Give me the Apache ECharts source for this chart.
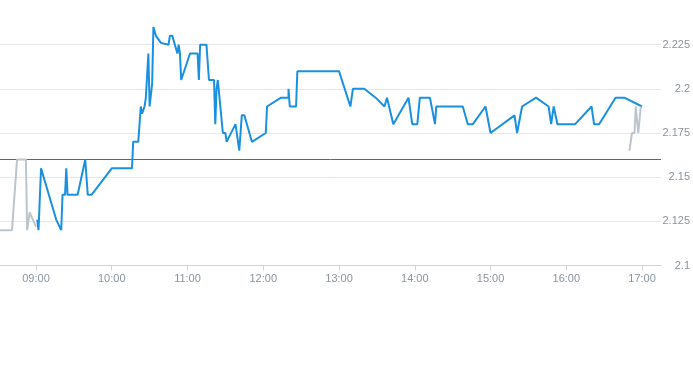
<!DOCTYPE html>
<html>
<head>
<meta charset="utf-8">
<script src="https://cdn.jsdelivr.net/npm/echarts@6/dist/echarts.min.js"></script>
<style>html,body{margin:0;padding:0;background:#fff}#c{width:693px;height:365px}</style>
</head>
<body>
<div id="c"></div>
<script>
// Tick labels
const xTickLabels = ["09:00","10:00","11:00","12:00","13:00","14:00","15:00","16:00","17:00"];
const yTickValues = [2.1, 2.125, 2.15, 2.175, 2.2, 2.225];
const refLevel = 2.16;

// Pre-market (gray)
const preTimes  = ["08:31","08:41","08:45","08:52","08:53","08:55","09:00"];
const preValues = [2.12, 2.12, 2.16, 2.16, 2.12, 2.13, 2.122];

// Trading session (blue)
const mainTimes = ["09:01","09:02","09:04","09:16","09:17","09:20","09:21","09:23","09:24","09:25",
  "09:33","09:39","09:41","09:44","10:00","10:16","10:17","10:21","10:22","10:23",
  "10:23","10:24","10:26","10:27","10:29","10:30","10:32","10:33","10:35","10:39",
  "10:45","10:46","10:48","10:50","10:51","10:52","10:53","10:54","10:55","11:02",
  "11:08","11:09","11:10","11:15","11:17","11:21","11:22","11:23","11:24","11:28",
  "11:30","11:31","11:38","11:41","11:43","11:45","11:51","12:02","12:03","12:14",
  "12:20","12:20","12:21","12:26","12:27","13:00","13:09","13:11","13:20","13:29",
  "13:36","13:38","13:43","13:55","13:58","14:02","14:04","14:12","14:16","14:17",
  "14:38","14:42","14:46","14:56","15:00","15:19","15:21","15:25","15:36","15:46",
  "15:48","15:50","15:53","16:07","16:20","16:22","16:26","16:39","16:46","17:00"];
const mainValues = [2.126,2.12,2.155,2.126,2.125,2.12,2.14,2.14,2.155,2.14,
  2.14,2.16,2.14,2.14,2.155,2.155,2.17,2.17,2.18,2.18,
  2.19,2.186,2.19,2.195,2.22,2.19,2.203,2.235,2.23,2.226,
  2.225,2.23,2.23,2.225,2.225,2.22,2.225,2.22,2.205,2.22,
  2.22,2.205,2.225,2.225,2.205,2.205,2.18,2.2,2.205,2.175,
  2.175,2.17,2.18,2.165,2.185,2.185,2.17,2.175,2.19,2.195,
  2.195,2.2,2.19,2.19,2.21,2.21,2.19,2.2,2.2,2.195,
  2.19,2.195,2.18,2.195,2.18,2.18,2.195,2.195,2.18,2.19,
  2.19,2.18,2.18,2.19,2.175,2.185,2.175,2.19,2.195,2.19,
  2.18,2.19,2.18,2.18,2.19,2.18,2.18,2.195,2.195,2.19];

// After-hours (gray)
const postTimes  = ["16:50","16:52","16:54","16:55","16:57","16:58","16:59"];
const postValues = [2.165, 2.175, 2.175, 2.19, 2.175, 2.175, 2.19];

function toMin(s){ const p = s.split(":"); return (+p[0])*60 + (+p[1]); }
function fmt(m){ const h = Math.floor(m/60), mm = Math.round(m%60); return (h<10?"0":"")+h+":"+(mm<10?"0":"")+mm; }
function pairs(ts, vs){ return ts.map((t,i)=>[toMin(t), vs[i]]); }

const X_MIN = 511.5, X_MAX = 1035;
const tickMins = xTickLabels.map(toMin);
const chart = echarts.init(document.getElementById('c'), null, {renderer:'canvas'});
chart.setOption({
  animation: false,
  grid: { left: 0, right: 30, top: 0.5, bottom: 99.5, containLabel: false },
  xAxis: {
    type: 'value', min: X_MIN, max: X_MAX,
    axisLine: { show: true, lineStyle: { color: '#cfd3d8', width: 1 } },
    axisTick: { show: true, customValues: tickMins, length: 5, lineStyle: { color: '#cfd3d8' } },
    axisLabel: { customValues: tickMins, formatter: v => fmt(v), color: '#8a95a1', fontSize: 11, margin: 8, fontFamily: 'Liberation Sans, Arial, sans-serif' },
    splitLine: { show: false }
  },
  yAxis: {
    type: 'value', position: 'right', min: 2.1, max: 2.25, interval: 0.025,
    axisLine: { show: false }, axisTick: { show: false },
    axisLabel: { align: 'right', margin: 29, color: '#8a95a1', fontSize: 11, fontFamily: 'Liberation Sans, Arial, sans-serif',
      showMaxLabel: false,
      formatter: v => String(+v.toFixed(3)) },
    splitLine: { show: true, showMaxLine: false, lineStyle: { color: '#e6e8eb', width: 1 } }
  },
  series: [
    { type: 'line', data: [[X_MIN, refLevel], [X_MAX, refLevel]], showSymbol: false, symbol: 'none',
      lineStyle: { color: '#d4382e', width: 1 }, itemStyle: { color: '#d4382e' }, z: 1, silent: true },
    { type: 'line', data: pairs(mainTimes, mainValues), showSymbol: false, symbol: 'none',
      lineStyle: { color: '#1a90e0', width: 2 }, itemStyle: { color: '#1a90e0' }, z: 2 },
    { type: 'line', data: pairs(preTimes, preValues), showSymbol: false, symbol: 'none',
      lineStyle: { color: '#bcc5cd', width: 2 }, z: 3 },
    { type: 'line', data: pairs(postTimes, postValues), showSymbol: false, symbol: 'none',
      lineStyle: { color: '#bcc5cd', width: 2 }, z: 3 }
  ]
});
</script>
</body>
</html>
